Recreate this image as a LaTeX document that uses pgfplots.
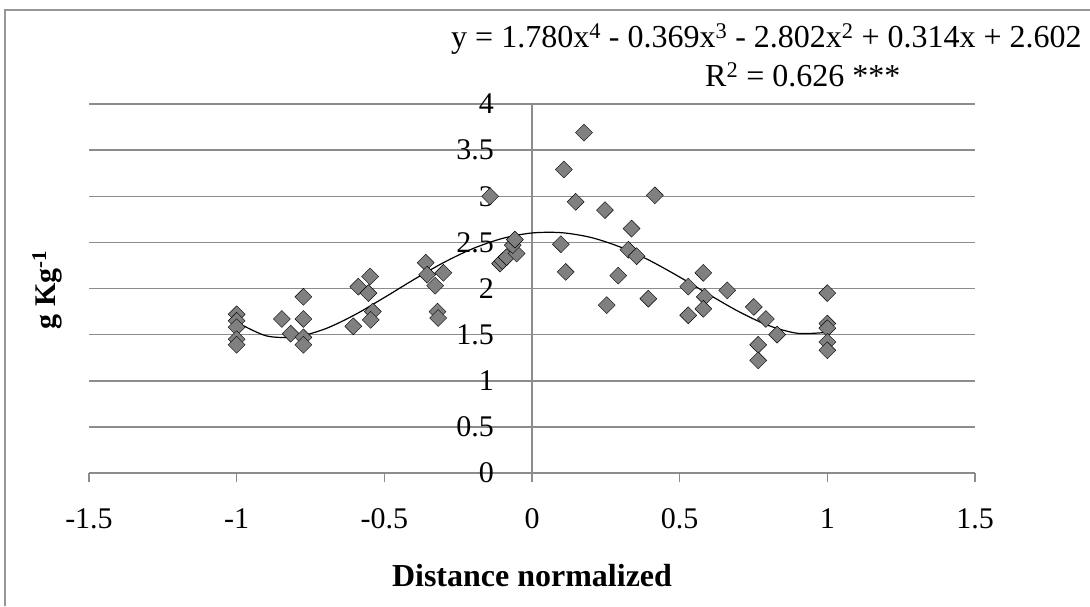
\documentclass[border=0pt]{standalone}
\usepackage{fontspec}
\setmainfont{Liberation Serif}
\usepackage{pgfplots}
\pgfplotsset{compat=1.18}
\definecolor{ptgray}{RGB}{128,128,128}
\definecolor{gridgray}{RGB}{140,140,140}
\definecolor{framegray}{RGB}{150,150,150}
\begin{document}
\begin{tikzpicture}[x=1pt,y=1pt]
\useasboundingbox (0,0) rectangle (1090,606);
\draw[framegray, line width=2pt] (5,0) -- (5,596) -- (1090,596);
\begin{axis}[
  at={(89pt,133pt)}, anchor=south west,
  scale only axis, width=886pt, height=369pt,
  xmin=-1.5, xmax=1.5, ymin=0, ymax=4,
  axis x line=bottom, axis y line=left,
  x axis line style={gridgray, line width=1.5pt, -},
  y axis line style={draw=none},
  xtick={-1.5,-1,-0.5,0,0.5,1,1.5},
  xticklabels={-1.5,-1,-0.5,0,0.5,1,1.5},
  ytick={0,0.5,1,1.5,2,2.5,3,3.5,4},
  yticklabels={0,0.5,1,1.5,2,2.5,3,3.5,4},
  ymajorgrids, grid style={gridgray, line width=1.5pt},
  tick align=outside, major tick length=9pt,
  hide obscured x ticks=false,
  x tick style={gridgray, line width=1.5pt},
  y tick style={draw=none},
  tick label style={font=\fontsize{30}{36}\selectfont},
  xticklabel style={inner sep=0pt, anchor=north, yshift=-26pt},
  yticklabel style={inner sep=0pt, anchor=east, xshift=414pt},
  clip=false,
]
\draw[gridgray, line width=1.5pt] (axis cs:0,0) -- (axis cs:0,4);
\addplot[only marks, mark=square*, mark size=6pt,
  mark options={rotate=45, fill=ptgray, draw=none}] coordinates {
(-1,1.72) (-1,1.65) (-1,1.58) (-1,1.45) (-1,1.39)
(-0.847,1.67) (-0.817,1.51)
(-0.774,1.91) (-0.774,1.67) (-0.774,1.47) (-0.774,1.39)
(-0.605,1.59) (-0.588,2.02) (-0.548,2.13) (-0.554,1.95) (-0.539,1.75) (-0.546,1.66)
(-0.36,2.28) (-0.355,2.15) (-0.328,2.03) (-0.30,2.17) (-0.32,1.75) (-0.318,1.68)
(-0.142,3.00) (-0.108,2.27) (-0.1,2.30) (-0.086,2.34) (-0.052,2.38) (-0.065,2.47) (-0.058,2.53)
(0.098,2.48) (0.114,2.18) (0.108,3.29) (0.176,3.69) (0.148,2.94)
(0.247,2.85) (0.253,1.82) (0.292,2.14) (0.337,2.65) (0.326,2.42) (0.354,2.35)
(0.394,1.89) (0.416,3.01)
(0.529,2.02) (0.529,1.71) (0.58,2.17) (0.585,1.91) (0.58,1.78)
(0.661,1.98) (0.751,1.80) (0.792,1.67) (0.83,1.50) (0.766,1.39) (0.766,1.22)
(1,1.95) (1,1.62) (1,1.57) (1,1.42) (1,1.33)
};
\addplot[black, line width=1.2pt, smooth] coordinates {
(-1,1.635) (-0.9,1.487) (-0.8,1.476) (-0.7,1.563) (-0.6,1.715) (-0.5,1.902)
(-0.4,2.097) (-0.3,2.280) (-0.2,2.433) (-0.1,2.543) (0,2.602) (0.1,2.605)
(0.2,2.553) (0.3,2.448) (0.4,2.301) (0.5,2.124) (0.6,1.933) (0.7,1.750)
(0.8,1.600) (0.9,1.514) (1,1.525)
};
\end{axis}
\node[anchor=base west, inner sep=0pt, font=\fontsize{32}{36}\selectfont] at (451,558)
  {y = 1.780x\textsuperscript{4} - 0.369x\textsuperscript{3} - 2.802x\textsuperscript{2} + 0.314x + 2.602};
\node[anchor=base west, inner sep=0pt, font=\fontsize{32}{36}\selectfont] at (705,519)
  {R\textsuperscript{2} = 0.626 ***};
\node[anchor=center, font=\bfseries\fontsize{32}{36}\selectfont] at (532,30) {Distance normalized};
\node[anchor=center, rotate=90, font=\bfseries\fontsize{30}{36}\selectfont] at (47,316) {g Kg\textsuperscript{-1}};
\end{tikzpicture}
\end{document}
